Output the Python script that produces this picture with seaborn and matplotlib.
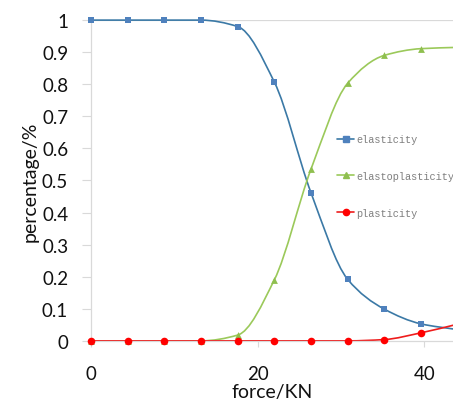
import numpy as np
import matplotlib
matplotlib.use('Agg')
import matplotlib.pyplot as plt
from matplotlib.path import Path
from matplotlib.patches import PathPatch
from matplotlib.lines import Line2D
from matplotlib.ticker import FuncFormatter
import seaborn as sns

# values
force = [0, 4.4, 8.8, 13.2, 17.6, 22, 26.4, 30.8, 35.2, 39.6, 44]
elasticity = [1, 1, 1, 1, 0.98, 0.807, 0.462, 0.192, 0.099, 0.053, 0.035]
elastoplasticity = [0, 0, 0, 0, 0.018, 0.19, 0.535, 0.803, 0.89, 0.911, 0.915]
plasticity = [0, 0, 0, 0, 0, 0, 0, 0, 0.004, 0.025, 0.052]

series_names = ["elasticity", "elastoplasticity", "plasticity"]
series_values = [elasticity, elastoplasticity, plasticity]
line_colors = ["#3b79a6", "#9bc95a", "#ee1c1c"]
marker_colors = ["#4f81bd", "#8fbf4f", "#ff0000"]
markers = ["s", "^", "o"]
marker_sizes = [24, 24, 30]

y_ticks = [0, 0.1, 0.2, 0.3, 0.4, 0.5, 0.6, 0.7, 0.8, 0.9, 1]
x_ticks = [0, 20, 40]


def smooth_path(xs, ys):
    # monotone cubic tangents, drawn as bezier segments (Excel-like smooth line)
    xs = np.asarray(xs, float)
    ys = np.asarray(ys, float)
    h = np.diff(xs)
    d = np.diff(ys) / h
    m = np.zeros_like(ys)
    m[0], m[-1] = d[0], d[-1]
    for k in range(1, len(xs) - 1):
        if d[k - 1] * d[k] > 0:
            w1 = 2 * h[k] + h[k - 1]
            w2 = h[k] + 2 * h[k - 1]
            m[k] = (w1 + w2) / (w1 / d[k - 1] + w2 / d[k])
    verts = [(xs[0], ys[0])]
    codes = [Path.MOVETO]
    for i in range(len(xs) - 1):
        verts += [(xs[i] + h[i] / 3, ys[i] + m[i] * h[i] / 3),
                  (xs[i + 1] - h[i] / 3, ys[i + 1] - m[i + 1] * h[i] / 3),
                  (xs[i + 1], ys[i + 1])]
        codes += [Path.CURVE4] * 3
    return Path(verts, codes)


sns.set_theme(style="white")
plt.rcParams['font.family'] = ['Lato', 'DejaVu Sans']

fig = plt.figure(figsize=(4.53, 4.06), dpi=100)
ax = fig.add_axes([0.201, 0.158, 0.799, 0.790])

ax.axhline(1, color="#d9d9d9", lw=0.9, zorder=0)

for name, vals, lc, mc, mk, ms in zip(series_names, series_values, line_colors,
                                      marker_colors, markers, marker_sizes):
    patch = PathPatch(smooth_path(force, vals), facecolor="none", edgecolor=lc,
                      lw=1.2, clip_on=False, zorder=2)
    ax.add_patch(patch)
    sns.scatterplot(x=force, y=vals, marker=mk, s=ms, color=mc, edgecolor=mc,
                    linewidth=0, ax=ax, clip_on=False, zorder=3)

ax.set_xlim(0, 43.45)
ax.set_ylim(0, 1)
ax.set_xticks(x_ticks)
ax.set_yticks(y_ticks)
ax.yaxis.set_major_formatter(FuncFormatter(lambda v, p: f"{v:g}"))

for side in ["top", "right"]:
    ax.spines[side].set_visible(False)
for side in ["left", "bottom"]:
    ax.spines[side].set_color("#d9d9d9")
    ax.spines[side].set_linewidth(0.9)

ax.tick_params(axis="y", which="major", left=True, length=6.5, width=0.8,
               color="#d9d9d9", pad=10, labelsize=13.5, labelcolor="#111111")
ax.tick_params(axis="x", which="major", bottom=True, length=4.3, width=0.8,
               color="#d9d9d9", pad=13, labelsize=13.5, labelcolor="#111111")

ax.set_xlabel("force/KN", fontsize=14, color="#111111", labelpad=1)
ax.set_ylabel("percentage/%", fontsize=14, color="#111111", labelpad=2)

handles = [Line2D([0], [0], color=lc, lw=1.2, marker=mk, markersize=4.5,
                  markerfacecolor=mc, markeredgecolor=mc)
           for lc, mc, mk in zip(line_colors, marker_colors, markers)]
leg = fig.legend(handles, series_names, loc="upper left",
                 bbox_to_anchor=(0.745, 0.667), frameon=False,
                 prop={"family": "Liberation Mono", "size": 7.4},
                 handlelength=1.6, handletextpad=0.2, labelspacing=2.6,
                 borderpad=0, borderaxespad=0)
for t in leg.get_texts():
    t.set_color("#7f7f7f")

fig.savefig("out.png", dpi=100)
